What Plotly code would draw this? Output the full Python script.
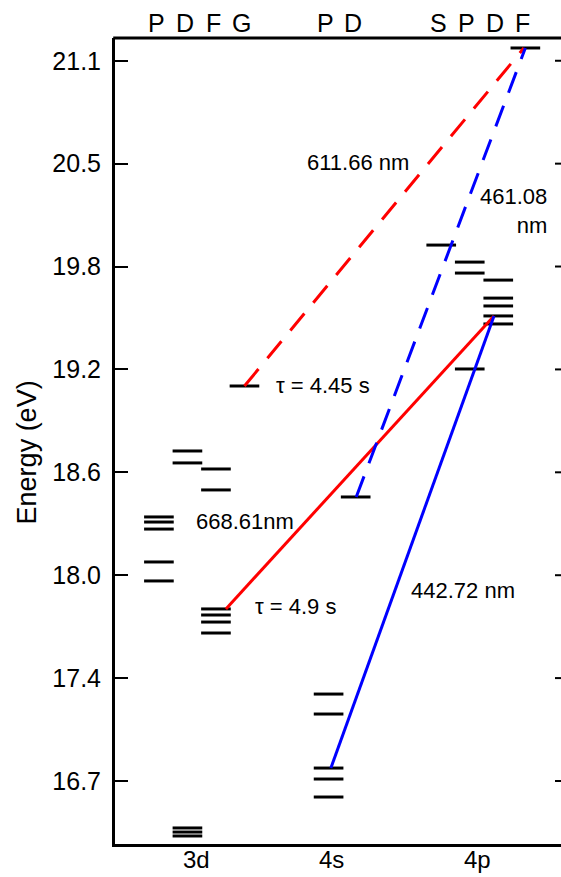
import plotly.graph_objects as go

# ---------------- data (energies in eV) ----------------
lev_3d_P = [18.313, 18.282, 18.239, 18.038, 17.922]
lev_3d_D = [18.716, 18.643, 16.413, 16.388, 16.364]
lev_3d_F = [18.606, 18.478, 17.751, 17.714, 17.671, 17.604]
lev_3d_G = [19.113]
lev_4s_P = [17.231, 17.109, 16.779, 16.712, 16.602]
lev_4s_D = [18.435]
lev_4p_S = [19.974]
lev_4p_P = [19.870, 19.803, 19.217]
lev_4p_D = [19.760, 19.650, 19.602, 19.541, 19.492]
lev_4p_F = [21.178]

col_labels = ["P", "D", "F", "G", "P", "D", "S", "P", "D", "F"]
config_labels = ["3d", "4s", "4p"]

tick_vals = [16.7, 17.3286, 17.9571, 18.5857, 19.2143, 19.8429, 20.4714, 21.1]
tick_text = ["16.7", "17.4", "18.0", "18.6", "19.2", "19.8", "20.5", "21.1"]

# transitions: (start energy, end energy)
trans_red_solid = (17.751, 19.541)
trans_blue_solid = (16.779, 19.541)
trans_red_dash = (19.113, 21.178)
trans_blue_dash = (18.435, 21.178)

# ---------------- layout positions ----------------
col_x = [1.0, 2.0, 3.0, 4.0, 6.95, 7.9, 10.9, 11.9, 12.9, 13.85]
col_levels = [lev_3d_P, lev_3d_D, lev_3d_F, lev_3d_G, lev_4s_P, lev_4s_D,
              lev_4p_S, lev_4p_P, lev_4p_D, lev_4p_F]
config_x = [2.33, 7.04, 12.16]
half = 0.52

fig = go.Figure()

# energy levels
xs, ys = [], []
for cx, levs in zip(col_x, col_levels):
    for e in levs:
        xs += [cx - half, cx + half, None]
        ys += [e, e, None]
fig.add_trace(go.Scatter(x=xs, y=ys, mode="lines",
                         line=dict(color="black", width=3),
                         hoverinfo="skip", showlegend=False))

# transitions
def add_line(x0, x1, ev, color, dash):
    fig.add_trace(go.Scatter(x=[x0, x1], y=[ev[0], ev[1]], mode="lines",
                             line=dict(color=color, width=3, dash=dash),
                             hoverinfo="skip", showlegend=False))

add_line(3.35, 12.75, trans_red_solid, "#ff0000", "solid")
add_line(7.03, 12.75, trans_blue_solid, "#0000ff", "solid")
add_line(4.0, 13.8, trans_red_dash, "#ff0000", "22px,14px")
add_line(7.92, 13.85, trans_blue_dash, "#0000ff", "22px,14px")

FONT = "Liberation Sans, Arial, sans-serif"
ann = []
# column labels on top
for cx, lab in zip(col_x, col_labels):
    ann.append(dict(x=cx - 0.1, xref="x", y=1.018, yref="paper", text=lab,
                    showarrow=False, xanchor="center", yanchor="middle",
                    font=dict(size=25, color="black", family=FONT)))
# configuration labels at bottom
for cx, lab in zip(config_x, config_labels):
    ann.append(dict(x=cx, xref="x", y=-0.0005, yref="paper", text=lab,
                    showarrow=False, xanchor="center", yanchor="top",
                    font=dict(size=24, color="black", family=FONT)))

def txt(x, y, s, xanchor="center", align="center"):
    ann.append(dict(x=x, y=y, xref="x", yref="y", text=s, showarrow=False,
                    xanchor=xanchor, yanchor="middle", align=align,
                    font=dict(size=22, color="black", family=FONT)))

txt(7.98, 20.481, "611.66 nm")
txt(14.68, 20.185, "461.08<br>nm", xanchor="right", align="right")
txt(5.03, 19.119, "τ = 4.45 s", xanchor="left")
txt(4.02, 18.288, "668.61nm")
txt(4.30, 17.769, "τ = 4.9 s", xanchor="left")
txt(9.77, 17.861, "442.72 nm", xanchor="left")

# y title
ann.append(dict(x=-0.197, xref="paper", y=0.486, yref="paper", text="Energy (eV)",
                textangle=-90, showarrow=False, xanchor="center", yanchor="middle",
                font=dict(size=27, color="black", family=FONT)))

shapes = [dict(type="line", xref="paper", yref="paper", x0=-0.004, x1=1, y0=1, y1=1,
               line=dict(color="black", width=3))]
for tv in tick_vals:
    shapes.append(dict(type="line", xref="paper", yref="y", x0=1 - 6 / 446, x1=1,
                       y0=tv, y1=tv, line=dict(color="black", width=2)))

fig.update_layout(
    width=561, height=877,
    margin=dict(l=115, r=0, t=38, b=33),
    plot_bgcolor="white", paper_bgcolor="white",
    annotations=ann, shapes=shapes,
    font=dict(family=FONT, color="black"),
    xaxis=dict(range=[-0.54, 15.1], showgrid=False, zeroline=False,
               showline=True, linecolor="black", linewidth=3, automargin=False,
               showticklabels=False, ticks=""),
    yaxis=dict(range=[16.315, 21.239], showgrid=False, zeroline=False,
               showline=True, linecolor="black", linewidth=3, automargin=False,
               tickmode="array", tickvals=tick_vals, ticktext=tick_text,
               ticks="inside", ticklen=13, tickwidth=2, tickcolor="black",
               ticklabelstandoff=6,
               tickfont=dict(size=25, family=FONT, color="black")),
)

fig.write_html("out.html")
